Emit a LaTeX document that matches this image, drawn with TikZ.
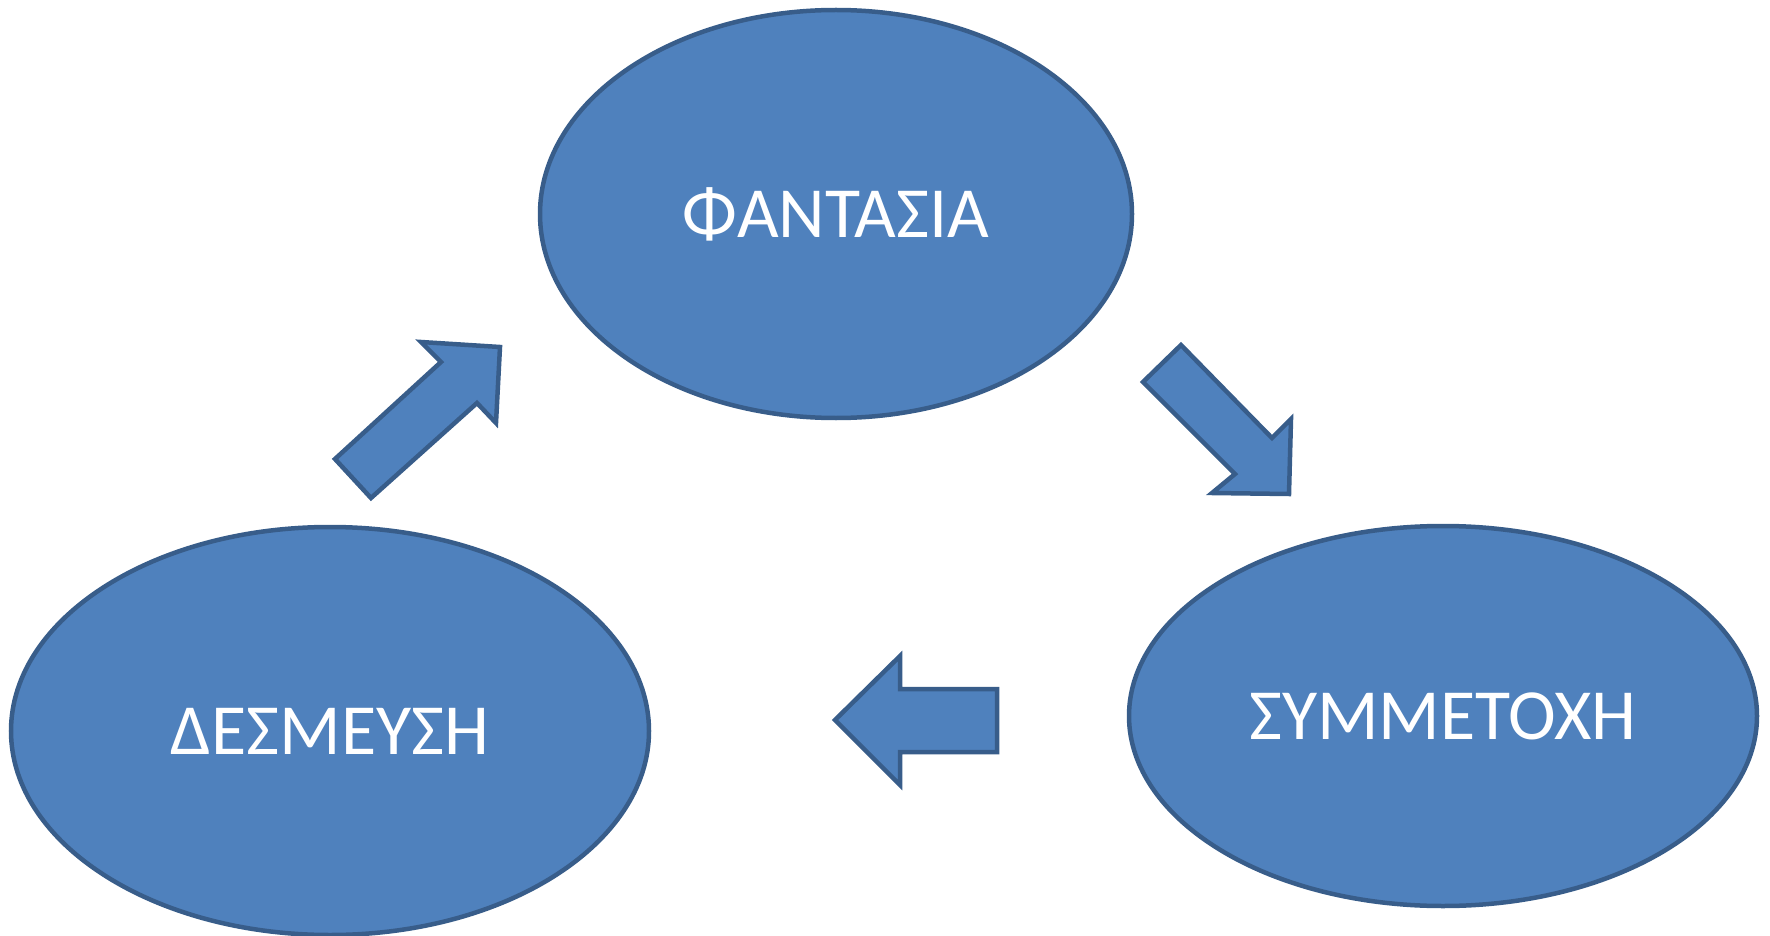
\documentclass[tikz,border=0pt]{standalone}
\usepackage{fontspec}
\setmainfont{Carlito}
\usetikzlibrary{shapes.geometric}
\definecolor{fillblue}{HTML}{4F81BD}
\definecolor{edgeblue}{HTML}{385D8A}
\tikzset{
  bubble/.style={ellipse, fill=fillblue, draw=edgeblue, line width=4.5pt, inner sep=0pt, text=white, font=\fontsize{72}{86}\selectfont},
  blockarrow/.style={fill=fillblue, draw=edgeblue, line width=4.5pt, line join=miter}
}
\begin{document}
\begin{tikzpicture}[x=1pt,y=-1pt]
\useasboundingbox (0,0) rectangle (1770,936);
\node[bubble, minimum width=592pt, minimum height=408pt] (fant) at (836,214) {ΦΑΝΤΑΣΙΑ};
\node[bubble, minimum width=638pt, minimum height=408pt] (desm) at (330,731) {ΔΕΣΜΕΥΣΗ};
\node[bubble, minimum width=628pt, minimum height=380pt] (symm) at (1443,716) {ΣΥΜΜΕΤΟΧΗ};
% up-right arrow
\draw[blockarrow] (335,459) -- (441,362) -- (421,342) -- (500,347) -- (496,423) -- (477,403) -- (371,498) -- cycle;
% down-right arrow
\draw[blockarrow] (1143,382) -- (1181,345) -- (1272,438) -- (1291,419) -- (1289,494) -- (1212,493) -- (1235,474) -- cycle;
% left arrow
\draw[blockarrow] (835,720) -- (900,656) -- (900,689) -- (997,689) -- (997,752) -- (900,752) -- (900,785) -- cycle;
\end{tikzpicture}
\end{document}
